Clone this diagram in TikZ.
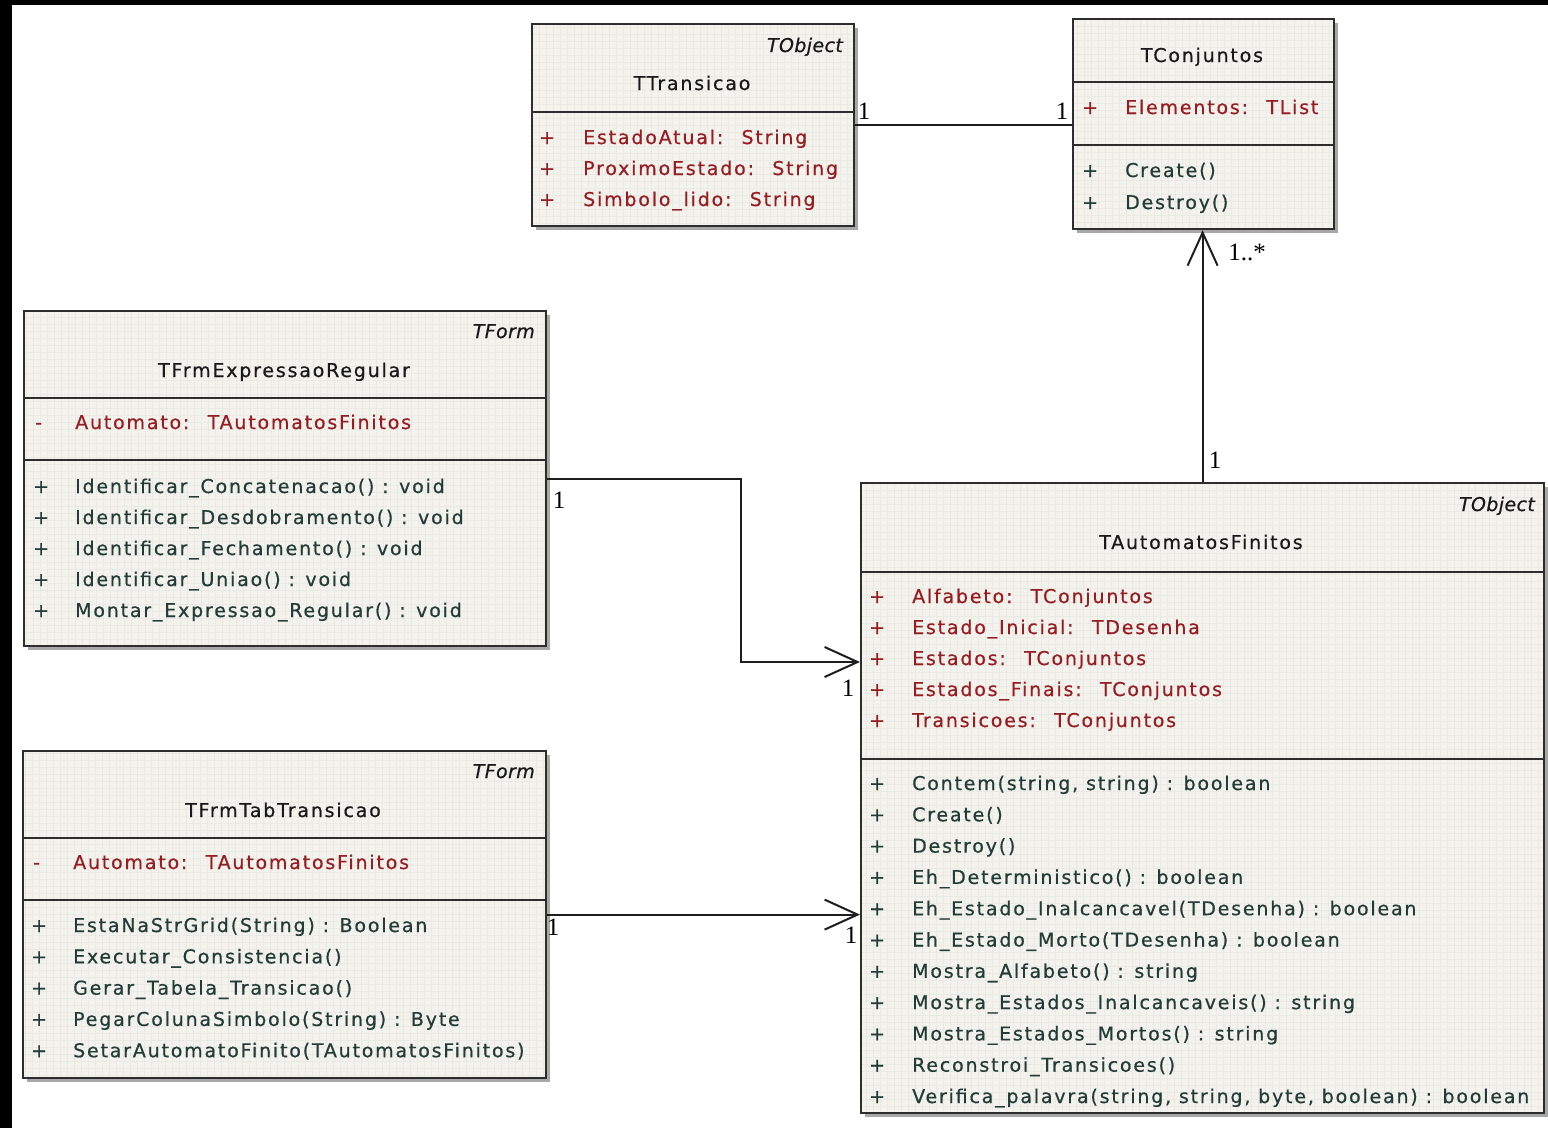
\documentclass[tikz,border=0pt]{standalone}
\usepackage{fontspec}
\setmainfont{Liberation Serif}
\newfontfamily\umlfont[LetterSpace=9.5,FakeBold=0.6]{DejaVu Sans}
\newfontfamily\umlstfont[LetterSpace=2,FakeBold=0.6]{DejaVu Sans Oblique}
\usetikzlibrary{arrows.meta,shadows}

\definecolor{boxfill}{RGB}{243,242,236}
\definecolor{gridc}{RGB}{234,234,228}
\definecolor{shadowc}{RGB}{168,168,168}
\definecolor{boxline}{RGB}{45,45,45}
\definecolor{attrc}{RGB}{150,30,35}
\definecolor{operc}{RGB}{35,60,55}
\definecolor{namec}{RGB}{25,25,25}
\definecolor{linec}{RGB}{30,30,30}

\newcommand\umltxt{\umlfont\fontsize{19}{21}\selectfont}
\newcommand\umlst{\umlstfont\fontsize{19}{21}\selectfont}

\tikzset{
  umlbox/.style={draw=boxline, line width=2.2pt, fill=boxfill, rectangle,
    inner sep=0pt, anchor=north west,
    general shadow={fill=shadowc, shadow xshift=4pt, shadow yshift=-4pt},
    path picture={\draw[gridc, line width=0.5pt]
      (path picture bounding box.south west) grid[step=7pt]
      (path picture bounding box.north east);}},
  sep/.style={draw=boxline, line width=2pt},
  stereo/.style={anchor=base east, inner sep=0pt, font=\umlst, text=namec},
  cname/.style={anchor=base, inner sep=0pt, font=\umltxt, text=namec},
  vis/.style={anchor=base west, inner sep=0pt, font=\umltxt},
  attr/.style={anchor=base west, inner sep=0pt, font=\umltxt, text=attrc},
  oper/.style={anchor=base west, inner sep=0pt, font=\umltxt, text=operc},
  mult/.style={inner sep=0pt, font=\fontsize{25}{25}\selectfont, text=black},
  assoc/.style={draw=linec, line width=2pt},
  nav/.style={assoc, -{Straight Barb[length=33pt,width=30pt]}},
}

\begin{document}
\begin{tikzpicture}[x=1pt,y=-1pt]
% page frame
\fill[black] (0,0) rectangle (1548,1128);
\fill[white] (12,5) rectangle (1548,1128);
\useasboundingbox (0,0) rectangle (1548,1128);

% ---- TTransicao
\node[umlbox, minimum width=322pt, minimum height=202pt] (ttr) at (531,23) {};
\draw[sep] (531,112) -- (853,112);
\node[stereo] (ttr-st) at (843,52) {TObject};
\node[cname] (ttr-nm) at (692,90) {TTransicao};
\foreach \t [count=\i] in {EstadoAtual:~ String, ProximoEstado:~ String, Simbolo\_lido:~ String}{
  \node[vis, text=attrc] (ttr-av\i) at (539,{144+31*(\i-1)}) {+};
  \node[attr] (ttr-a\i) at (583,{144+31*(\i-1)}) {\t};
}

% ---- TConjuntos
\node[umlbox, minimum width=261pt, minimum height=210pt] (tcj) at (1072,18) {};
\draw[sep] (1072,82) -- (1333,82);
\draw[sep] (1072,145) -- (1333,145);
\node[cname] (tcj-nm) at (1202,62) {TConjuntos};
\node[vis, text=attrc] (tcj-av1) at (1082,114) {+};
\node[attr] (tcj-a1) at (1125,114) {Elementos:~ TList};
\foreach \t [count=\i] in {Create(), Destroy()}{
  \node[vis, text=operc] (tcj-mv\i) at (1082,{177+32*(\i-1)}) {+};
  \node[oper] (tcj-m\i) at (1125,{177+32*(\i-1)}) {\t};
}

% ---- TFrmExpressaoRegular
\node[umlbox, minimum width=522pt, minimum height=335pt] (fer) at (23,310) {};
\draw[sep] (23,398) -- (545,398);
\draw[sep] (23,460) -- (545,460);
\node[stereo] (fer-st) at (535,338) {TForm};
\node[cname] (fer-nm) at (284,377) {TFrmExpressaoRegular};
\node[vis, text=attrc] (fer-av1) at (35,429) {-};
\node[attr] (fer-a1) at (75,429) {Automato:~ TAutomatosFinitos};
\foreach \t [count=\i] in {Identificar\_Concatenacao() : void,
    Identificar\_Desdobramento() : void, Identificar\_Fechamento() : void,
    Identificar\_Uniao() : void, Montar\_Expressao\_Regular() : void}{
  \node[vis, text=operc] (fer-mv\i) at (33,{493+31*(\i-1)}) {+};
  \node[oper] (fer-m\i) at (75,{493+31*(\i-1)}) {\t};
}

% ---- TFrmTabTransicao
\node[umlbox, minimum width=523pt, minimum height=327pt] (ftt) at (22,750) {};
\draw[sep] (22,838) -- (545,838);
\draw[sep] (22,900) -- (545,900);
\node[stereo] (ftt-st) at (535,778) {TForm};
\node[cname] (ftt-nm) at (283,817) {TFrmTabTransicao};
\node[vis, text=attrc] (ftt-av1) at (33,869) {-};
\node[attr] (ftt-a1) at (73,869) {Automato:~ TAutomatosFinitos};
\foreach \t [count=\i] in {EstaNaStrGrid(String) : Boolean,
    Executar\_Consistencia(), Gerar\_Tabela\_Transicao(),
    PegarColunaSimbolo(String) : Byte, SetarAutomatoFinito(TAutomatosFinitos)}{
  \node[vis, text=operc] (ftt-mv\i) at (31,{932+31.3*(\i-1)}) {+};
  \node[oper] (ftt-m\i) at (73,{932+31.3*(\i-1)}) {\t};
}

% ---- TAutomatosFinitos
\node[umlbox, minimum width=683pt, minimum height=630pt] (taf) at (860,482) {};
\draw[sep] (860,572) -- (1543,572);
\draw[sep] (860,759) -- (1543,759);
\node[stereo] (taf-st) at (1535,511) {TObject};
\node[cname] (taf-nm) at (1201,549) {TAutomatosFinitos};
\foreach \t [count=\i] in {Alfabeto:~ TConjuntos, Estado\_Inicial:~ TDesenha,
    Estados:~ TConjuntos, Estados\_Finais:~ TConjuntos, Transicoes:~ TConjuntos}{
  \node[vis, text=attrc] (taf-av\i) at (869,{603+31*(\i-1)}) {+};
  \node[attr] (taf-a\i) at (912,{603+31*(\i-1)}) {\t};
}
\foreach \t [count=\i] in {{Contem(string, string) : boolean}, Create(), Destroy(),
    Eh\_Deterministico() : boolean, Eh\_Estado\_Inalcancavel(TDesenha) : boolean,
    Eh\_Estado\_Morto(TDesenha) : boolean, Mostra\_Alfabeto() : string,
    Mostra\_Estados\_Inalcancaveis() : string, Mostra\_Estados\_Mortos() : string,
    Reconstroi\_Transicoes(), {Verifica\_palavra(string, string, byte, boolean) : boolean}}{
  \node[vis, text=operc] (taf-mv\i) at (869,{790+31.3*(\i-1)}) {+};
  \node[oper] (taf-m\i) at (912,{790+31.3*(\i-1)}) {\t};
}

% ---- associations
\draw[assoc] (ttr.east) -- (ttr.east -| tcj.west);
\coordinate (bend1) at (741,662);
\draw[nav] (fer.east) -| (bend1) -- (bend1 -| taf.west);
\draw[nav] (ftt.east) -- (ftt.east -| taf.west);
\draw[nav] (taf.north) -- (taf.north |- tcj.south);

% ---- multiplicities
\node[mult] (m-ttr) at (864,111) {1};
\node[mult] (m-tcj) at (1062,111) {1};
\node[mult] (m-tcjb) at (1247,252) {1..*};
\node[mult] (m-tafn) at (1215,460) {1};
\node[mult] (m-fer) at (559,500) {1};
\node[mult] (m-tafa) at (848,688) {1};
\node[mult] (m-ftt) at (553,927) {1};
\node[mult] (m-tafb) at (851,935) {1};
\end{tikzpicture}
\end{document}
